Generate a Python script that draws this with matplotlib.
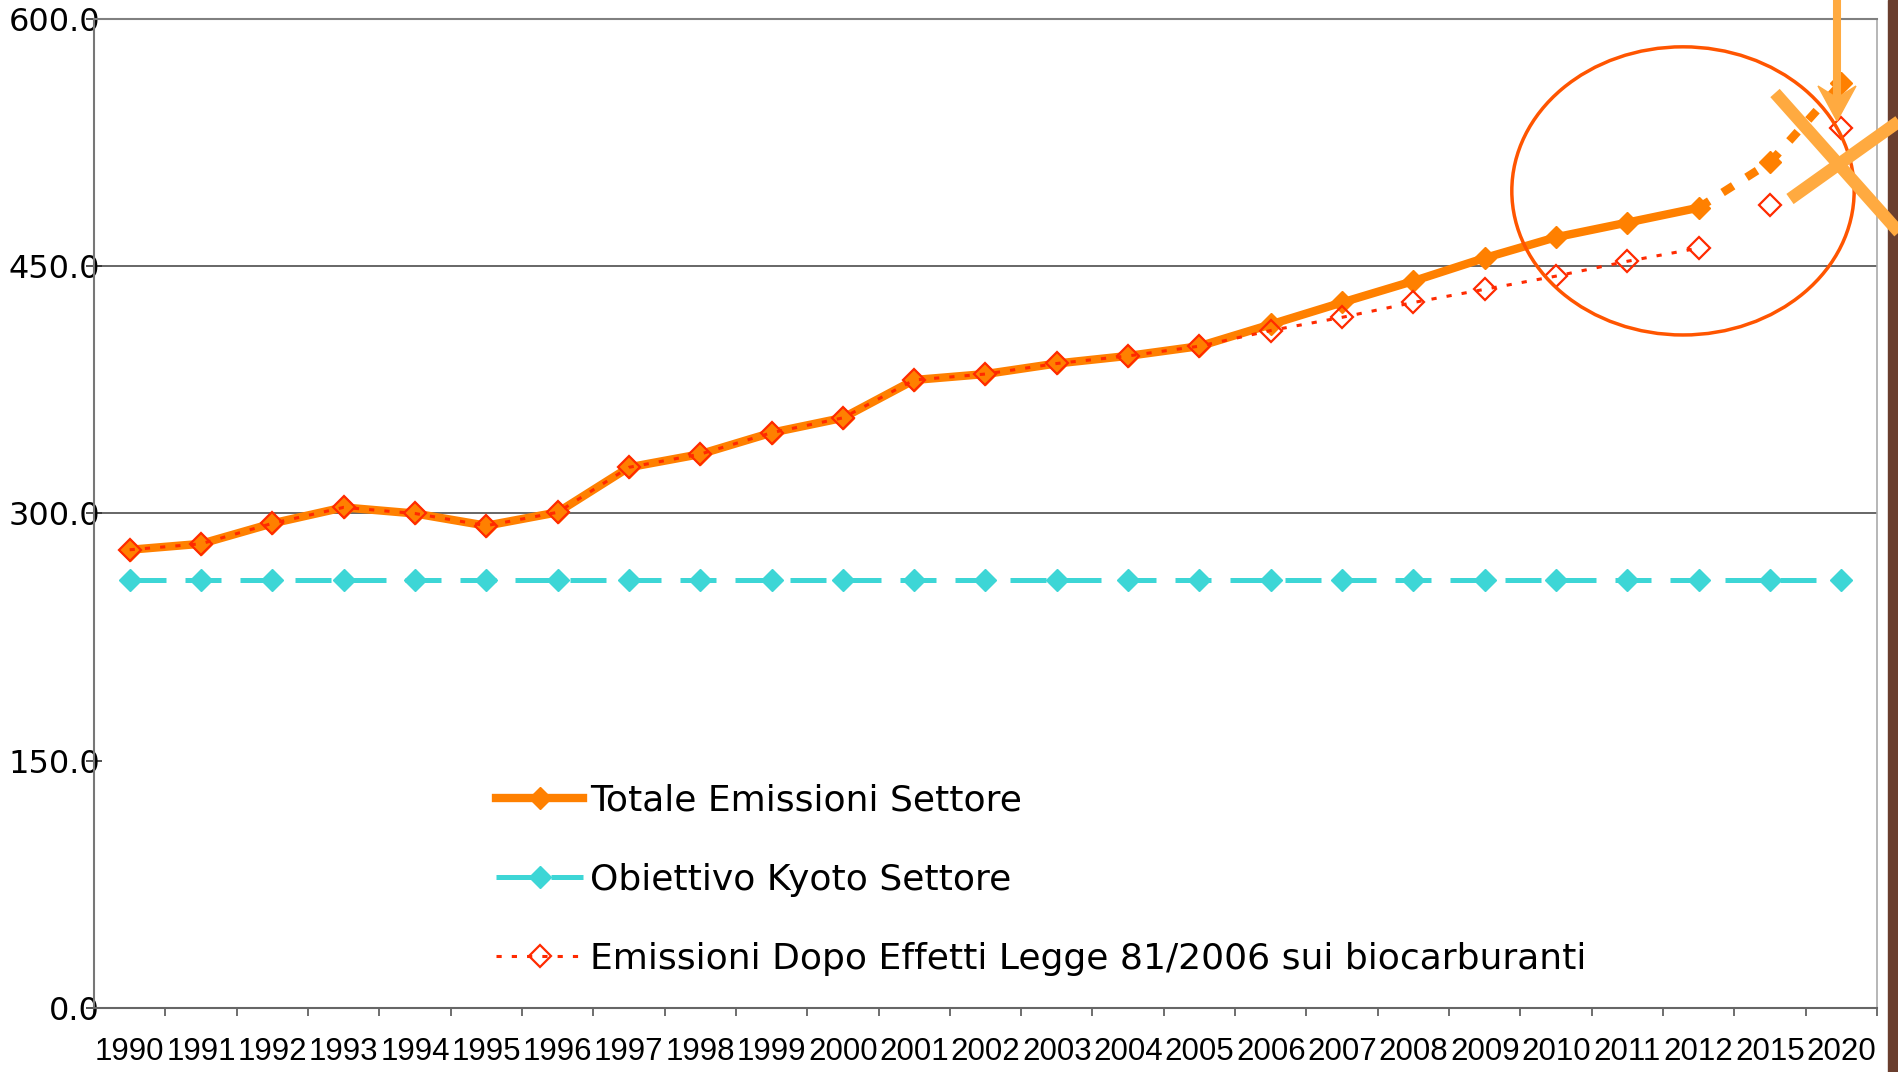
import numpy as np
import matplotlib
matplotlib.use("Agg")
import matplotlib.pyplot as plt
from matplotlib.patches import Ellipse, Rectangle, Polygon
from matplotlib.lines import Line2D

# emissioni del settore trasporti (Mt CO2 eq.)
anni = ["1990", "1991", "1992", "1993", "1994", "1995", "1996", "1997",
        "1998", "1999", "2000", "2001", "2002", "2003", "2004", "2005",
        "2006", "2007", "2008", "2009", "2010", "2011", "2012", "2015", "2020"]

totale = [278.0, 281.6, 294.0, 303.7, 300.0, 292.6, 300.7, 328.0,
          336.0, 349.0, 358.0, 381.0, 384.6, 391.0, 395.6, 401.5,
          414.7, 428.0, 441.0, 455.0, 467.6, 476.5, 485.5, 513.0, 561.0]

kyoto = [259.5, 259.5, 259.5, 259.5, 259.5, 259.5, 259.5, 259.5,
         259.5, 259.5, 259.5, 259.5, 259.5, 259.5, 259.5, 259.5,
         259.5, 259.5, 259.5, 259.5, 259.5, 259.5, 259.5, 259.5, 259.5]

dopo_legge = [278.0, 281.6, 294.0, 303.7, 300.0, 292.6, 300.7, 328.0,
              336.0, 349.0, 358.0, 381.0, 384.6, 391.0, 395.6, 401.5,
              411.0, 419.0, 428.0, 436.0, 444.0, 453.0, 461.0, 487.0, 534.0]

etichette = ["Totale Emissioni Settore",
             "Obiettivo Kyoto Settore",
             "Emissioni Dopo Effetti Legge 81/2006 sui biocarburanti"]

ARANCIO = "#ff8000"
CIANO = "#3dd6d6"
ROSSO = "#ff2a00"
EVIDENZA = "#ffaa40"
MS = 11.5

W, H = 1899, 1072
fig = plt.figure(figsize=(W / 100, H / 100), dpi=100)
ax = fig.add_axes([0.0495, 0.0597, 0.9389, 0.9226])

x = np.arange(len(anni))
ult = anni.index("2012")

# serie storica + proiezione tratteggiata
ax.plot(x[:ult + 1], totale[:ult + 1], color=ARANCIO, lw=6, marker="D", ms=MS,
        mfc=ARANCIO, mec=ARANCIO, label=etichette[0], zorder=3)
ax.plot(x[ult:], totale[ult:], color=ARANCIO, lw=6, ls=(0, (1.5, 1.9)),
        marker="D", ms=MS, mfc=ARANCIO, mec=ARANCIO, markevery=[1, 2], zorder=3)

ax.plot(x, kyoto, color=CIANO, lw=3.6, ls=(0, (7.2, 3.8)), marker="D", ms=MS,
        mfc=CIANO, mec=CIANO, label=etichette[1], zorder=2)

ax.plot(x[:ult + 1], dopo_legge[:ult + 1], color=ROSSO, lw=2.2, ls=(0, (1.7, 3.3)),
        marker="D", ms=MS, mfc="none", mec=ROSSO, mew=1.6, label=etichette[2], zorder=4)
ax.plot(x[ult + 1:], dopo_legge[ult + 1:], ls="none", marker="D", ms=MS,
        mfc="none", mec=ROSSO, mew=1.6, zorder=4)

ax.set_xlim(-0.5, len(anni) - 0.5)
ax.set_ylim(0, 600)

for v in (300, 450):
    ax.axhline(v, color="#666666", lw=1.4, zorder=1)

ax.spines["left"].set_color("#777777")
ax.spines["bottom"].set_color("#666666")
ax.spines["top"].set_color("#808080")
ax.spines["right"].set_color("#aaaaaa")
for s in ("left", "bottom", "top"):
    ax.spines[s].set_linewidth(1.5)
ax.spines["right"].set_linewidth(1.2)

yt = [0, 150, 300, 450, 600]
ax.set_yticks(yt, labels=[f"{v:.1f}" for v in yt])
ax.tick_params(axis="y", direction="inout", length=12, width=1.2, color="#333333",
               pad=-10.3, labelsize=23)

ax.set_xticks(np.arange(-0.5, len(anni), 1))
ax.set_xticklabels([])
ax.set_xticks(x, labels=anni, minor=True)
ax.tick_params(axis="x", which="major", direction="out", length=6, width=1.2,
               color="#555555")
ax.tick_params(axis="x", which="minor", length=0, pad=21, labelsize=22.5)
for t in ax.get_xticklabels(minor=True):
    t.set_family("Liberation Sans")

ax.legend(loc="upper left", bbox_to_anchor=(0.2256, 0.2270), frameon=False,
          fontsize=26, handlelength=2.4, handletextpad=0.2, labelspacing=1.25,
          borderpad=0, borderaxespad=0)

# cerchio sulle ultime annualita'
ax.add_patch(Ellipse((21.78, 495.7), 4.80, 174.8, fill=False, ec="#ff5500",
                     lw=2.5, clip_on=False, zorder=5))


def fx(px):
    return px / W


def fy(py):
    return 1 - py / H


# bordo marrone a destra
fig.add_artist(Rectangle((fx(1888), 0), 1 - fx(1888), 1, transform=fig.transFigure,
                         color="#6a3e2e", zorder=10))

# croce e freccia sul valore 2020
for (x0, y0), (x1, y1) in [((1775, 93), (1905, 239)), ((1790, 199), (1905, 117))]:
    fig.add_artist(Line2D([fx(x0), fx(x1)], [fy(y0), fy(y1)], transform=fig.transFigure,
                          color=EVIDENZA, lw=9, solid_capstyle="butt", zorder=11))

fig.add_artist(Line2D([fx(1837), fx(1837)], [fy(-5), fy(100)], transform=fig.transFigure,
                      color=EVIDENZA, lw=5.8, solid_capstyle="butt", zorder=11))
fig.add_artist(Polygon([(fx(1837), fy(121)), (fx(1818), fy(86)), (fx(1837), fy(98)),
                        (fx(1856), fy(86))], closed=True, transform=fig.transFigure,
                       color=EVIDENZA, zorder=11))

fig.savefig("out.png", dpi=100)
